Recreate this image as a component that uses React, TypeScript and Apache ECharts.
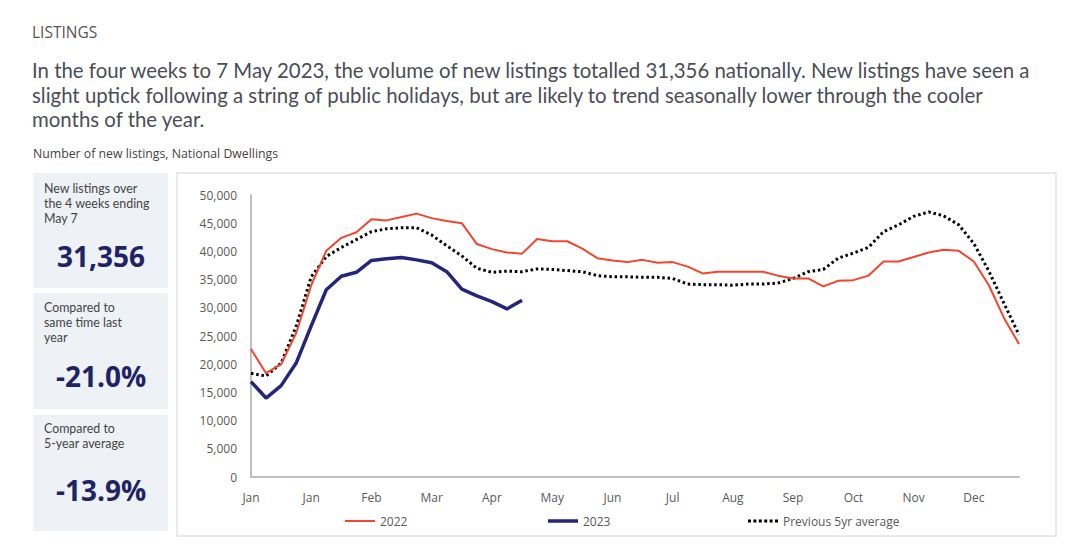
import React, { useEffect, useRef } from "react";
import * as echarts from "echarts";

const monthTicks = ["Jan", "Jan", "Feb", "Mar", "Apr", "May", "Jun", "Jul", "Aug", "Sep", "Oct", "Nov", "Dec"];

const weeks = Array.from({ length: 52 }, (_, i) => "W" + (i + 1));

const series2022 = [
  22700, 18400, 20000, 25500, 34000, 40100, 42400, 43400, 45700, 45500,
  46100, 46700, 45900, 45400, 45000, 41300, 40400, 39800, 39600, 42200,
  41800, 41800, 40500, 38800, 38400, 38100, 38500, 38000, 38100, 37300,
  36100, 36400, 36400, 36400, 36400, 35700, 35200, 35200, 33800, 34800,
  34900, 35700, 38200, 38200, 39000, 39800, 40300, 40100, 38200, 34000,
  28200, 23600,
];

const series2023 = [
  16900, 14000, 16200, 20200, 26800, 33200, 35600, 36300, 38400, 38700,
  38900, 38500, 38000, 36400, 33300, 32100, 31100, 29800, 31356,
];

const series5yr = [
  18400, 17900, 20200, 26700, 35500, 39100, 40700, 42100, 43500, 44000,
  44200, 44200, 42900, 41000, 39200, 37000, 36300, 36500, 36400, 36900,
  36800, 36600, 36400, 35700, 35500, 35500, 35400, 35400, 35200, 34200,
  34100, 34100, 34000, 34200, 34200, 34400, 35200, 36400, 36800, 38800,
  39700, 40700, 43500, 44700, 46200, 47000, 46300, 44700, 41400, 36500,
  30800, 25200,
];

const headingLines = [
  "In the four weeks to 7 May 2023, the volume of new listings totalled 31,356 nationally. New listings have seen a",
  "slight uptick following a string of public holidays, but are likely to trend seasonally lower through the cooler",
  "months of the year.",
];

const panels = [
  { lines: ["New listings over", "the 4 weeks ending", "May 7"], value: "31,356" },
  { lines: ["Compared to", "same time last", "year"], value: "-21.0%" },
  { lines: ["Compared to", "5-year average"], value: "-13.9%" },
];

const RED = "#F2452D";
const NAVY = "#23267A";
const PANEL = "#EEF2F6";
const AXIS_TEXT = "#595959";
const FONT = "'Open Sans', 'Noto Sans', sans-serif";

const DOTS_ICON =
  "path://M0,0h3v3h-3z M5.4,0h3v3h-3z M10.8,0h3v3h-3z M16.2,0h3v3h-3z M21.6,0h3v3h-3z M27,0h3v3h-3z";

export default function App() {
  const ref = useRef<HTMLDivElement>(null);

  useEffect(() => {
    if (!ref.current) return;
    const chart = echarts.init(ref.current, undefined, { renderer: "svg" });

    const graphics: any[] = [];
    graphics.push({
      type: "text",
      x: 32,
      y: 32,
      style: { text: "LISTINGS", font: `400 15.5px ${FONT}`, fill: "#555555", verticalAlign: "middle" },
    });
    graphics.push({
      type: "text",
      x: 32,
      y: 57.75,
      style: {
        text: headingLines.join("\n"),
        font: `400 20.4px Lato, sans-serif`,
        lineHeight: 24.5,
        fill: "#4A4E57",
        verticalAlign: "top",
      },
    });
    graphics.push({
      type: "text",
      x: 33,
      y: 153,
      style: { text: "Number of new listings, National Dwellings", font: `400 12.3px ${FONT}`, fill: "#444444", verticalAlign: "middle" },
    });
    // chart frame
    graphics.push({
      type: "rect",
      shape: { x: 177, y: 173, width: 879, height: 363 },
      style: { fill: "none", stroke: "#E3E3E3", lineWidth: 1.5 },
      z: -1,
    });
    const boxes = [
      { y: 173, h: 115, textY: 180.5, valY: 256 },
      { y: 293, h: 116, textY: 299.5, valY: 376 },
      { y: 415, h: 116, textY: 421, valY: 490 },
    ];
    panels.forEach((p, i) => {
      const b = boxes[i];
      graphics.push({
        type: "rect",
        shape: { x: 33, y: b.y, width: 135, height: b.h },
        style: { fill: PANEL },
        z: -1,
      });
      graphics.push({
        type: "text",
        x: 44,
        y: b.textY,
        style: {
          text: p.lines.join("\n"),
          font: `400 12.4px Lato, sans-serif`,
          lineHeight: 15,
          fill: "#444444",
          verticalAlign: "top",
        },
      });
      graphics.push({
        type: "text",
        x: 101,
        y: b.valY,
        style: { text: p.value, font: `700 28px ${FONT}`, fill: "#1F2366", align: "center", verticalAlign: "middle" },
      });
    });

    const legendBase = {
      top: 510,
      itemWidth: 30,
      textStyle: { color: AXIS_TEXT, fontSize: 12, fontFamily: FONT },
      selectedMode: false,
    };

    chart.setOption({
      animation: false,
      backgroundColor: "#ffffff",
      graphic: graphics,
      legend: [
        { ...legendBase, left: 340, itemHeight: 2, data: [{ name: "2022", icon: "rect" }] },
        { ...legendBase, left: 543, itemHeight: 3.5, data: [{ name: "2023", icon: "rect" }] },
        { ...legendBase, left: 743, itemHeight: 3, data: [{ name: "Previous 5yr average", icon: DOTS_ICON }] },
      ],
      grid: { left: 251, right: 61, top: 195, bottom: 81, containLabel: false },
      xAxis: {
        type: "category",
        data: weeks,
        boundaryGap: false,
        axisLine: { lineStyle: { color: "#BFBFBF", width: 2 } },
        axisTick: { show: false },
        axisLabel: {
          interval: 3,
          color: AXIS_TEXT,
          fontSize: 12,
          fontFamily: FONT,
          margin: 14,
          formatter: (_v: string, idx: number) => monthTicks[Math.floor(idx / 4)] ?? "",
        },
        splitLine: { show: false },
      },
      yAxis: {
        type: "value",
        min: 0,
        max: 50000,
        interval: 5000,
        axisLine: { show: true, lineStyle: { color: "#BFBFBF", width: 2 } },
        axisTick: { show: false },
        splitLine: { show: false },
        axisLabel: {
          color: AXIS_TEXT,
          fontSize: 12,
          fontFamily: FONT,
          margin: 14,
          formatter: (v: number) => v.toLocaleString("en-US"),
        },
      },
      series: [
        {
          name: "2022",
          type: "line",
          data: series2022,
          symbol: "none",
          lineStyle: { color: RED, width: 2 },
          itemStyle: { color: RED },
          z: 3,
        },
        {
          name: "2023",
          type: "line",
          data: series2023,
          symbol: "none",
          lineStyle: { color: NAVY, width: 3.5 },
          itemStyle: { color: NAVY },
          z: 4,
        },
        {
          name: "Previous 5yr average",
          type: "line",
          data: series5yr,
          symbol: "none",
          lineStyle: { color: "#000000", width: 3, type: [2.5, 2.8] },
          itemStyle: { color: "#000000" },
          z: 2,
        },
      ],
    });

    return () => chart.dispose();
  }, []);

  return (
    <div
      ref={ref}
      style={{ position: "fixed", left: 0, top: 0, width: 1080, height: 558, background: "#fff" }}
    />
  );
}
